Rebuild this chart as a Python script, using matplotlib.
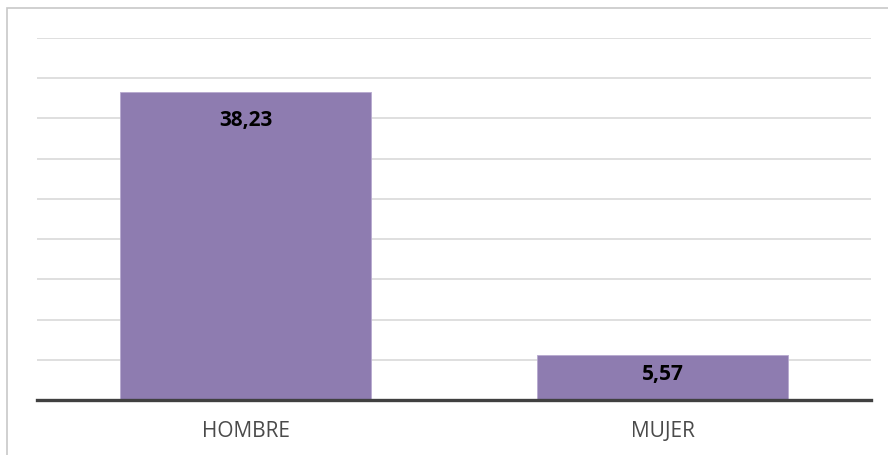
import matplotlib.pyplot as plt
from matplotlib.patches import Rectangle

categories = ['HOMBRE', 'MUJER']
values = [38.23, 5.57]
labels = ['38,23', '5,57']
label_offsets = [-27, -18.5]  # px below bar top

plt.rcParams['font.family'] = ['Open Sans', 'DejaVu Sans']

fig = plt.figure(figsize=(8.88, 4.56), dpi=100)
ax = fig.add_axes([37 / 888, 55 / 456, 834 / 888, 362 / 456])

# outer frame (only left and top visible)
fig.patches.append(Rectangle((7 / 888, -0.2), 1.2, (456 - 9) / 456 + 0.2,
                             transform=fig.transFigure, fill=False,
                             edgecolor='#C8C8C8', lw=1.2))

x = range(len(categories))
bars = ax.bar(x, values, width=0.6, color='#8E7CB0', edgecolor='#B7A9CF', lw=0.6, zorder=2)

for b, lab, off in zip(bars, labels, label_offsets):
    ax.annotate(lab, (b.get_x() + b.get_width() / 2, b.get_height()),
                xytext=(0, off * 72 / 100), textcoords='offset points',
                ha='center', va='center', fontsize=15, fontweight='bold', color='black', zorder=3)

ax.set_xlim(-0.5, 1.5)
ax.set_ylim(0, 45)
ax.set_yticks(range(5, 50, 5))
ax.yaxis.grid(True, color='#D9D9D9', lw=1.2, zorder=0)
ax.tick_params(axis='y', length=0, labelleft=False)
ax.set_xticks(list(x))
ax.set_xticklabels(categories, fontsize=15, color='#4A4A4A')
ax.tick_params(axis='x', length=0, pad=14.5)

for s in ['top', 'right', 'left']:
    ax.spines[s].set_visible(False)
ax.spines['bottom'].set_color('#404040')
ax.spines['bottom'].set_linewidth(2.4)
ax.spines['bottom'].set_zorder(4)

fig.savefig('out.png', dpi=100)
